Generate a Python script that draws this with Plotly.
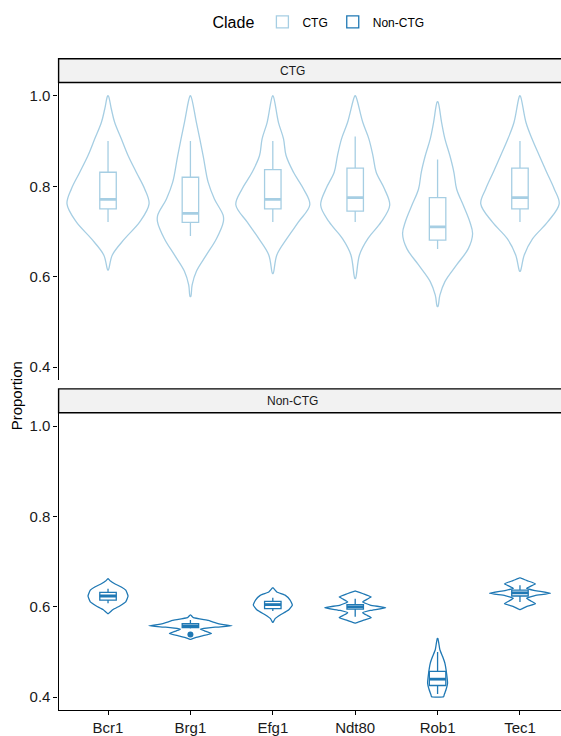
import plotly.graph_objects as go

categories = ["Bcr1", "Brg1", "Efg1", "Ndt80", "Rob1", "Tec1"]
clades = ["CTG", "Non-CTG"]
clade_colors = ["#A6CEE3", "#1F78B4"]
y_ticks = [0.4, 0.6, 0.8, 1.0]

# ---- violin outlines (y value, half-width in category units) ----
ctg_violin_y = [
    [1.0, 0.971, 0.941, 0.905, 0.868, 0.831, 0.794, 0.761, 0.721, 0.684, 0.648, 0.615],
    [1.0, 0.941, 0.868, 0.809, 0.772, 0.736, 0.722, 0.684, 0.648, 0.612, 0.582, 0.556],
    [1.0, 0.941, 0.905, 0.868, 0.831, 0.794, 0.759, 0.721, 0.684, 0.648, 0.607],
    [1.0, 0.941, 0.905, 0.868, 0.831, 0.794, 0.758, 0.721, 0.684, 0.648, 0.596],
    [0.987, 0.941, 0.905, 0.868, 0.831, 0.794, 0.758, 0.721, 0.695, 0.662, 0.626, 0.589, 0.559, 0.534],
    [1.0, 0.941, 0.905, 0.868, 0.831, 0.794, 0.761, 0.721, 0.684, 0.648, 0.612],
]
ctg_violin_w = [
    [0.004, 0.040, 0.081, 0.161, 0.243, 0.343, 0.445, 0.498, 0.385, 0.203, 0.052, 0.004],
    [0.004, 0.073, 0.154, 0.215, 0.291, 0.397, 0.400, 0.316, 0.194, 0.073, 0.021, 0.004],
    [0.004, 0.069, 0.130, 0.161, 0.251, 0.373, 0.449, 0.312, 0.170, 0.049, 0.004],
    [0.004, 0.093, 0.166, 0.215, 0.255, 0.356, 0.419, 0.316, 0.154, 0.052, 0.004],
    [0.004, 0.049, 0.089, 0.149, 0.198, 0.231, 0.312, 0.392, 0.425, 0.373, 0.231, 0.089, 0.028, 0.004],
    [0.004, 0.073, 0.146, 0.234, 0.324, 0.416, 0.476, 0.336, 0.154, 0.052, 0.004],
]
nonctg_violin_y = [
    [0.662, 0.657, 0.651, 0.644, 0.637, 0.624, 0.611, 0.602, 0.594, 0.585],
    [0.582, 0.576, 0.570, 0.567, 0.562, 0.558, 0.555, 0.551, 0.547, 0.541, 0.536, 0.532, 0.528],
    [0.642, 0.633, 0.626, 0.615, 0.604, 0.593, 0.582, 0.574, 0.566],
    [0.635, 0.629, 0.622, 0.617, 0.611, 0.604, 0.598, 0.592, 0.587, 0.581, 0.576, 0.570, 0.564],
    [0.530, 0.505, 0.490, 0.475, 0.453, 0.431, 0.417, 0.407, 0.401],
    [0.664, 0.658, 0.651, 0.646, 0.641, 0.636, 0.630, 0.625, 0.619, 0.613, 0.607, 0.601, 0.594],
]
nonctg_violin_w = [
    [0.004, 0.030, 0.081, 0.161, 0.215, 0.243, 0.215, 0.142, 0.061, 0.004],
    [0.004, 0.036, 0.218, 0.267, 0.364, 0.506, 0.303, 0.121, 0.170, 0.255, 0.146, 0.061, 0.004],
    [0.004, 0.049, 0.149, 0.210, 0.237, 0.191, 0.089, 0.028, 0.004],
    [0.004, 0.097, 0.194, 0.146, 0.091, 0.182, 0.370, 0.182, 0.091, 0.146, 0.194, 0.097, 0.004],
    [0.004, 0.028, 0.061, 0.089, 0.109, 0.121, 0.103, 0.083, 0.073],
    [0.004, 0.085, 0.188, 0.133, 0.081, 0.182, 0.370, 0.182, 0.081, 0.133, 0.188, 0.085, 0.004],
]

# ---- box statistics ----
ctg_lower = [0.721, 0.690, 0.721, 0.721, 0.661, 0.721]
ctg_q1 = [0.750, 0.720, 0.750, 0.745, 0.681, 0.750]
ctg_median = [0.771, 0.740, 0.771, 0.775, 0.710, 0.775]
ctg_q3 = [0.831, 0.820, 0.837, 0.840, 0.775, 0.840]
ctg_upper = [0.900, 0.900, 0.900, 0.910, 0.859, 0.900]

nonctg_lower = [0.608, 0.552, 0.591, 0.578, 0.407, 0.611]
nonctg_q1 = [0.615, 0.554, 0.596, 0.595, 0.426, 0.624]
nonctg_median = [0.624, 0.558, 0.605, 0.600, 0.440, 0.631]
nonctg_q3 = [0.632, 0.563, 0.612, 0.605, 0.457, 0.637]
nonctg_upper = [0.640, 0.571, 0.620, 0.618, 0.500, 0.648]

nonctg_outlier_cat = ["Brg1"]
nonctg_outlier_val = [0.539]

FONT = "Liberation Sans, Arial, sans-serif"
W, H = 561, 736
panel_left_px = 58.6
x_range = [-0.6, 5.498]
y_range = [0.3715, 1.0295]
box_width = 0.2

fig = go.Figure()

panels = [
    dict(xa="x2", ya="y2", vy=ctg_violin_y, vw=ctg_violin_w, lo=ctg_lower, q1=ctg_q1,
         med=ctg_median, q3=ctg_q3, up=ctg_upper, color=clade_colors[0], name=clades[0], smooth=1.0),
    dict(xa="x", ya="y", vy=nonctg_violin_y, vw=nonctg_violin_w, lo=nonctg_lower, q1=nonctg_q1,
         med=nonctg_median, q3=nonctg_q3, up=nonctg_upper, color=clade_colors[1], name=clades[1], smooth=0.35),
]

for p in panels:
    for i, cat in enumerate(categories):
        ys = p["vy"][i]
        ws = p["vw"][i]
        xs = [i + w for w in ws] + [i - w for w in reversed(ws)]
        yy = list(ys) + list(reversed(ys))
        xs.append(xs[0])
        yy.append(yy[0])
        fig.add_trace(go.Scatter(
            x=xs, y=yy, mode="lines",
            line=dict(color=p["color"], width=1.3, shape="spline", smoothing=p["smooth"]),
            xaxis=p["xa"], yaxis=p["ya"], showlegend=False, hoverinfo="skip"))
    fig.add_trace(go.Box(
        orientation="v",
        x=list(range(len(categories))), q1=p["q1"], median=p["med"], q3=p["q3"],
        lowerfence=p["lo"], upperfence=p["up"], width=box_width, whiskerwidth=0,
        fillcolor="white", line=dict(color=p["color"], width=1.3), boxpoints=False,
        name=p["name"], legendgroup=p["name"], showlegend=True,
        xaxis=p["xa"], yaxis=p["ya"]))
    mx, my = [], []
    for i, m in enumerate(p["med"]):
        mx += [i - box_width / 2, i + box_width / 2, None]
        my += [m, m, None]
    fig.add_trace(go.Scatter(x=mx, y=my, mode="lines", line=dict(color=p["color"], width=2.8),
                             xaxis=p["xa"], yaxis=p["ya"], showlegend=False, hoverinfo="skip"))

fig.add_trace(go.Scatter(
    x=[categories.index(c) for c in nonctg_outlier_cat], y=nonctg_outlier_val, mode="markers",
    marker=dict(color=clade_colors[1], size=6), showlegend=False, xaxis="x", yaxis="y"))

def py(px):
    return 1 - px / H

x_dom = [panel_left_px / W, 1.0]
top_dom = [py(382), py(83)]
bot_dom = [py(714), py(415)]

yaxis_common = dict(range=y_range, tickvals=y_ticks, ticktext=[f"{v:.1f}" for v in y_ticks],
                    showline=True, linecolor="black", linewidth=1.3, ticks="outside", ticklen=4,
                    tickwidth=1.1, tickcolor="black", showgrid=False, zeroline=False,
                    tickfont=dict(family=FONT, size=15, color="#1a1a1a"))

fig.update_layout(
    width=W, height=H, margin=dict(l=0, r=0, t=0, b=0),
    paper_bgcolor="white", plot_bgcolor="white",
    font=dict(family=FONT, color="#1a1a1a"),
    boxmode="overlay",
    xaxis=dict(domain=x_dom, anchor="y", range=x_range, tickvals=list(range(len(categories))),
               ticktext=categories, showline=True, linecolor="black", linewidth=1.3,
               ticks="outside", ticklen=4, tickwidth=1.1, tickcolor="black",
               showgrid=False, zeroline=False, tickfont=dict(family=FONT, size=15, color="#1a1a1a")),
    xaxis2=dict(domain=x_dom, anchor="y2", range=x_range, showline=False, showticklabels=False,
                ticks="", showgrid=False, zeroline=False, matches="x"),
    yaxis=dict(domain=bot_dom, anchor="x", **yaxis_common),
    yaxis2=dict(domain=top_dom, anchor="x2", **yaxis_common),
    legend=dict(orientation="h", x=320 / W, xanchor="center", y=py(23), yanchor="middle",
                title=dict(text="Clade", font=dict(family=FONT, size=16, color="black"), side="left"),
                font=dict(family=FONT, size=12, color="black"), bgcolor="rgba(0,0,0,0)"),
    showlegend=True,
)

# facet strips
for (y0, y1, label) in [(59, 83, clades[0]), (391, 415, clades[1])]:
    fig.add_shape(type="rect", xref="paper", yref="paper", x0=panel_left_px / W, x1=1.02,
                  y0=py(y1), y1=py(y0), fillcolor="#F2F2F2", line=dict(color="black", width=1.4),
                  layer="above")
    fig.add_annotation(text=label, xref="paper", yref="paper", x=292.5 / W, y=py((y0 + y1) / 2),
                       showarrow=False, font=dict(family=FONT, size=12, color="#1a1a1a"),
                       xanchor="center", yanchor="middle")

fig.add_annotation(text="Proportion", xref="paper", yref="paper", x=16 / W, y=py(398.5),
                   textangle=-90, showarrow=False, font=dict(family=FONT, size=15, color="black"),
                   xanchor="center", yanchor="middle")

fig.write_html("out.html")
